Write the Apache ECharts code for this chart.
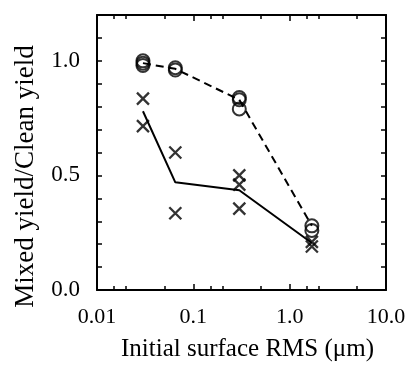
<!DOCTYPE html>
<html>
<head>
<meta charset="utf-8">
<script src="https://cdn.jsdelivr.net/npm/echarts@6/dist/echarts.min.js"></script>
<style>html,body{margin:0;padding:0;background:#fff;}#c{width:417px;height:367px;}</style>
</head>
<body>
<div id="c"></div>
<script>
// Data
const groupX = [0.03, 0.065, 0.3, 1.7];
const circleX = [0.03, 0.03, 0.03, 0.065, 0.065, 0.3, 0.3, 0.3, 1.7, 1.7];
const circleY = [0.99, 1.0, 0.98, 0.96, 0.97, 0.84, 0.83, 0.79, 0.28, 0.26];
const crossX = [0.03, 0.03, 0.065, 0.065, 0.3, 0.3, 0.3, 1.7, 1.7];
const crossY = [0.835, 0.715, 0.60, 0.335, 0.50, 0.46, 0.355, 0.21, 0.19];
const circleMean = [0.99, 0.965, 0.83, 0.28];
const crossMean = [0.78, 0.47, 0.435, 0.205];
const xMajorTicks = [0.01, 0.1, 1, 10];
const xTickLabels = ['0.01', '0.1', '1.0', '10.0'];
const xMinorTicks = [0.015, 0.02, 0.05, 0.15, 0.2, 0.5, 1.5, 2, 5];
const yLabelValues = [0, 0.5, 1.0];

const FONT = 'Liberation Serif';
const pairs = (xs, ys) => xs.map((x, i) => [x, ys[i]]);

function xAxisDef(pos, major, showLine, showLabel) {
  return {
    type: 'log', logBase: 10, min: 0.01, max: 10, position: pos,
    axisLine: { show: showLine, onZero: false, lineStyle: { color: '#000', width: 2 } },
    axisTick: { show: true, inside: true, length: major ? 6 : 4,
      customValues: major ? xMajorTicks : xMinorTicks,
      lineStyle: { color: '#000', width: 1.5 } },
    axisLabel: { show: showLabel, customValues: xMajorTicks, margin: 16,
      fontFamily: FONT, fontSize: 22, color: '#000',
      formatter: v => { const i = xMajorTicks.findIndex(t => Math.abs(t - v) / t < 1e-6); return i >= 0 ? xTickLabels[i] : ''; } },
    splitLine: { show: false }, minorTick: { show: false }, minorSplitLine: { show: false },
    name: showLabel ? 'Initial surface RMS (\u03bcm)' : '',
    nameLocation: 'middle', nameGap: 47,
    nameTextStyle: { fontFamily: FONT, fontSize: 25, color: '#000', padding: [0, 0, 0, 12] }
  };
}
function yAxisDef(pos, showLabel) {
  return {
    type: 'value', min: 0, max: 1.2, interval: 0.1, position: pos,
    axisLine: { show: true, onZero: false, lineStyle: { color: '#000', width: 2 } },
    axisTick: { show: true, inside: true, length: 5, lineStyle: { color: '#000', width: 1.5 } },
    axisLabel: { show: showLabel, margin: 17, showMaxLabel: false,
      fontFamily: FONT, fontSize: 23, color: '#000',
      formatter: v => yLabelValues.some(t => Math.abs(t - v) < 1e-6) ? v.toFixed(1) : '' },
    splitLine: { show: false },
    name: showLabel ? 'Mixed yield/Clean yield' : '',
    nameLocation: 'middle', nameGap: 58,
    nameTextStyle: { fontFamily: FONT, fontSize: 27, color: '#000', padding: [0, 48, 0, 0] }
  };
}

const chart = echarts.init(document.getElementById('c'), null, { renderer: 'canvas' });
chart.setOption({
  animation: false,
  backgroundColor: '#fff',
  grid: { left: 97, right: 31, top: 15, bottom: 74, containLabel: false },
  xAxis: [
    xAxisDef('bottom', true, true, true),
    xAxisDef('bottom', false, false, false),
    xAxisDef('top', true, true, false),
    xAxisDef('top', false, false, false)
  ],
  yAxis: [yAxisDef('left', true), yAxisDef('right', false)],
  series: [
    { type: 'line', xAxisIndex: 0, yAxisIndex: 0, data: pairs(groupX, circleMean),
      showSymbol: false, lineStyle: { color: '#000', width: 2, type: [8, 5] } },
    { type: 'line', xAxisIndex: 0, yAxisIndex: 0, data: pairs(groupX, crossMean),
      showSymbol: false, lineStyle: { color: '#000', width: 2 } },
    { type: 'scatter', xAxisIndex: 0, yAxisIndex: 0, data: pairs(circleX, circleY),
      symbol: 'circle', symbolSize: 13,
      itemStyle: { color: 'rgba(255,255,255,0)', borderColor: '#000', borderWidth: 2 } },
    { type: 'scatter', xAxisIndex: 0, yAxisIndex: 0, data: pairs(crossX, crossY),
      symbol: 'path://M0,0L10,10M10,0L0,10', symbolSize: 12,
      itemStyle: { color: 'rgba(0,0,0,0)', borderColor: '#000', borderWidth: 2.3 } }
  ]
});
</script>
</body>
</html>
